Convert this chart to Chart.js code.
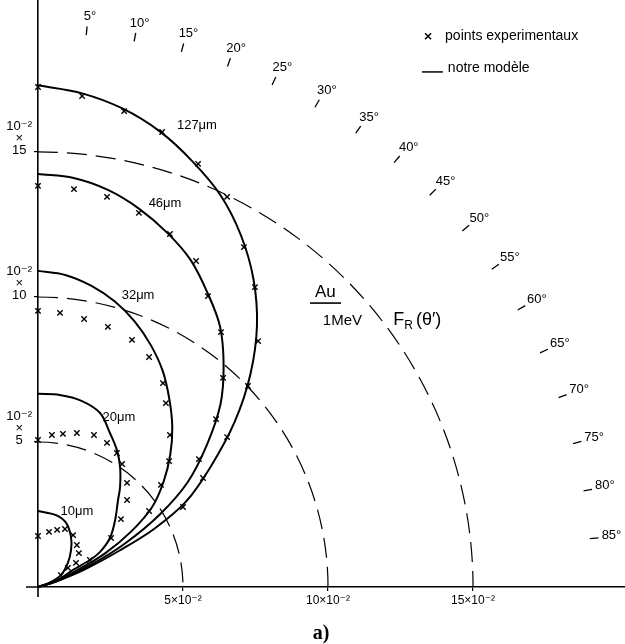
<!DOCTYPE html>
<html><head><meta charset="utf-8">
<script src="https://cdn.jsdelivr.net/npm/chart.js@4.4.1/dist/chart.umd.min.js"></script>
<style>html,body{margin:0;padding:0;background:#fff;}canvas{display:block;}</style>
</head><body>
<canvas id="c" width="625" height="644"></canvas>
<script>
// All values in units of 10^-2
const xTickValues = [5, 10, 15];
const yTickValues = [5, 10, 15];
const frRadii = [5, 10, 15];           // F_R(theta') dashed circles
const angleTicks = [5,10,15,20,25,30,35,40,45,50,55,60,65,70,75,80,85];

// model curves ("notre modèle")
const model127X = [0, 1.49, 2.91, 4.21, 5.34, 6.30, 7.00, 7.43, 7.55, 7.32, 6.78, 5.98, 5.11, 4.0, 2.8, 1.6, 0.6, 0];
const model127Y = [17.3, 17.03, 16.50, 15.70, 14.66, 13.50, 12.12, 10.61, 9.0, 7.32, 5.69, 4.19, 2.95, 2.0, 1.25, 0.6, 0.18, 0];
const model46X = [0, 1.23, 2.41, 3.49, 4.45, 5.26, 5.85, 6.28, 6.40, 6.29, 5.82, 5.16, 4.2, 3.0, 1.8, 0.7, 0];
const model46Y = [14.24, 14.10, 13.69, 13.04, 12.22, 11.28, 10.13, 8.97, 7.62, 6.29, 4.89, 3.61, 2.5, 1.5, 0.75, 0.22, 0];
const model32X = [0, 0.94, 1.83, 2.64, 3.33, 3.89, 4.30, 4.53, 4.63, 4.56, 4.33, 3.93, 3.2, 2.3, 1.3, 0.5, 0];
const model32Y = [10.9, 10.76, 10.39, 9.85, 9.16, 8.34, 7.45, 6.47, 5.52, 4.56, 3.63, 2.75, 1.9, 1.15, 0.55, 0.15, 0];
const model20X = [0, 0.75, 1.5, 2.14, 2.48, 2.72, 2.83, 2.83, 2.76, 2.66, 2.48, 2.14, 1.79, 1.21, 0.66, 0];
const model20Y = [6.66, 6.62, 6.42, 6.0, 5.31, 4.72, 4.14, 3.45, 3.0, 2.31, 1.69, 1.21, 0.93, 0.59, 0.24, 0];
const model10X = [0, 0.62, 0.97, 1.14, 1.14, 1.03, 0.79, 0.38, 0];
const model10Y = [2.62, 2.48, 2.21, 1.72, 1.28, 0.83, 0.41, 0.14, 0];

// experimental points ("points expérimentaux")
const exp127X = [0, 1.52, 2.97, 4.28, 5.52, 6.52, 7.10, 7.48, 7.59, 7.24, 6.52, 5.69, 5.0];
const exp127Y = [17.24, 16.93, 16.41, 15.69, 14.59, 13.45, 11.72, 10.34, 8.48, 6.93, 5.17, 3.76, 2.76];
const exp46X = [0, 1.24, 2.38, 3.48, 4.55, 5.45, 5.86, 6.31, 6.38, 6.14, 5.55];
const exp46Y = [13.83, 13.72, 13.45, 12.90, 12.17, 11.24, 10.03, 8.79, 7.21, 5.79, 4.41];
const exp32X = [0, 0.76, 1.59, 2.41, 3.24, 3.83, 4.31, 4.41, 4.55, 4.52, 4.24, 3.83];
const exp32Y = [9.52, 9.45, 9.24, 8.97, 8.52, 7.93, 7.03, 6.34, 5.24, 4.34, 3.52, 2.62];
const exp20X = [0, 0.48, 0.86, 1.34, 1.93, 2.38, 2.72, 2.90, 3.07, 3.07, 2.86, 2.52, 1.79];
const exp20Y = [5.07, 5.24, 5.28, 5.31, 5.24, 4.97, 4.62, 4.24, 3.59, 3.0, 2.34, 1.69, 0.93];
const exp10X = [0, 0.38, 0.66, 0.93, 1.21, 1.34, 1.41, 1.31, 1.03, 0.79];
const exp10Y = [1.76, 1.90, 1.97, 2.0, 1.79, 1.45, 1.17, 0.83, 0.66, 0.41];

// curve labels: text, x, y (data units)
const curveLabels = ['10\u03bcm', '20\u03bcm', '32\u03bcm', '46\u03bcm', '127\u03bcm'];
const curveLabelX = [1.34, 2.79, 3.45, 4.38, 5.48];
const curveLabelY = [2.59, 5.86, 10.07, 13.24, 15.93];

const FONT = 'Liberation Sans, DejaVu Sans, sans-serif';
const zip = (xs, ys) => xs.map((v, i) => ({x: v, y: ys[i]}));
const lineDs = (xs, ys) => ({data: zip(xs, ys), showLine: true, pointRadius: 0, borderColor: '#000', borderWidth: 2, tension: 0.35, fill: false, clip: false});
const ptDs = (xs, ys) => ({data: zip(xs, ys), showLine: false, pointStyle: 'crossRot', pointRadius: 3.8, borderColor: '#000', borderWidth: 1.4, backgroundColor: '#000', clip: false});
const noPad = s => { s.paddingLeft = 0; s.paddingRight = 0; s.paddingTop = 0; s.paddingBottom = 0; };

const overlay = {
  id: 'overlay',
  beforeDraw(chart) {
    const ctx = chart.ctx;
    ctx.save(); ctx.fillStyle = '#fff'; ctx.fillRect(0, 0, chart.width, chart.height); ctx.restore();
  },
  beforeDatasetsDraw(chart) {
    const {ctx, scales: {x, y}} = chart;
    const cx = x.getPixelForValue(0), cy = y.getPixelForValue(0);
    ctx.save();
    ctx.strokeStyle = '#000';
    // small axis overshoot past the origin
    ctx.lineWidth = 1.6;
    ctx.beginPath(); ctx.moveTo(cx - 12, cy); ctx.lineTo(cx, cy); ctx.moveTo(cx, cy); ctx.lineTo(cx, cy + 10); ctx.stroke();
    ctx.lineWidth = 1.2; ctx.setLineDash([20, 9]);
    frRadii.forEach(r => {
      const rx = x.getPixelForValue(r) - cx, ry = cy - y.getPixelForValue(r);
      ctx.beginPath(); ctx.ellipse(cx, cy, rx, ry, 0, -Math.PI / 2, 0); ctx.stroke();
    });
    ctx.restore();
  },
  afterDraw(chart) {
    const {ctx, scales: {x, y}} = chart;
    const P = (a, b) => [x.getPixelForValue(a), y.getPixelForValue(b)];
    const d = Math.PI / 180;
    ctx.save();
    ctx.fillStyle = '#000'; ctx.strokeStyle = '#000';
    // angle ticks + labels
    ctx.lineWidth = 1.3;
    ctx.font = '13px ' + FONT; ctx.textAlign = 'center'; ctx.textBaseline = 'middle';
    angleTicks.forEach(a => {
      const s = Math.sin(a * d), c = Math.cos(a * d);
      const p1 = P(19.1 * s, 19.1 * c), p2 = P(19.4 * s, 19.4 * c);
      ctx.beginPath(); ctx.moveTo(p1[0], p1[1]); ctx.lineTo(p2[0], p2[1]); ctx.stroke();
      ctx.fillText(a + '\u00b0', p2[0] + 2 + s * 11, p2[1] - 2 - c * 8);
    });
    // curve labels
    ctx.font = '13px ' + FONT;
    curveLabels.forEach((t, i) => { const p = P(curveLabelX[i], curveLabelY[i]); ctx.fillText(t, p[0], p[1]); });
    // Au / 1MeV / F_R(theta')
    ctx.textAlign = 'left'; ctx.textBaseline = 'alphabetic';
    let p = P(9.55, 10.0);
    ctx.font = '17px ' + FONT; ctx.fillText('Au', p[0], p[1]);
    const q = P(9.38, 9.79), q2 = P(10.45, 9.79);
    ctx.lineWidth = 1.6; ctx.beginPath(); ctx.moveTo(q[0], q[1]); ctx.lineTo(q2[0], q2[1]); ctx.stroke();
    p = P(9.82, 9.05); ctx.font = '15px ' + FONT; ctx.fillText('1MeV', p[0], p[1]);
    p = P(12.25, 9.05); ctx.font = '18px ' + FONT; ctx.fillText('F', p[0], p[1]);
    let w = ctx.measureText('F').width;
    ctx.font = '12px ' + FONT; ctx.fillText('R', p[0] + w, p[1] + 4);
    w += ctx.measureText('R').width;
    ctx.font = '18px ' + FONT; ctx.fillText('(\u03b8\u2032)', p[0] + w + 3, p[1]);
    // legend
    p = P(13.45, 18.99);
    ctx.lineWidth = 1.5;
    ctx.beginPath(); ctx.moveTo(p[0] - 3, p[1] - 3); ctx.lineTo(p[0] + 3, p[1] + 3); ctx.moveTo(p[0] + 3, p[1] - 3); ctx.lineTo(p[0] - 3, p[1] + 3); ctx.stroke();
    ctx.font = '14px ' + FONT; ctx.textBaseline = 'middle';
    ctx.fillText('points experimentaux', p[0] + 17, p[1]);
    p = P(13.24, 17.76); const p2 = P(13.96, 17.76);
    ctx.beginPath(); ctx.moveTo(p[0], p[1]); ctx.lineTo(p2[0], p2[1]); ctx.stroke();
    ctx.fillText('notre mod\u00e8le', p2[0] + 5, p[1] - 4);
    // caption
    ctx.font = 'bold 20px Liberation Serif, DejaVu Serif, serif'; ctx.textAlign = 'center'; ctx.textBaseline = 'alphabetic';
    ctx.fillText('a)', 321, 639);
    ctx.restore();
  }
};

new Chart(document.getElementById('c'), {
  type: 'scatter',
  data: {
    datasets: [
      lineDs(model127X, model127Y), lineDs(model46X, model46Y), lineDs(model32X, model32Y),
      lineDs(model20X, model20Y), lineDs(model10X, model10Y),
      ptDs(exp127X, exp127Y), ptDs(exp46X, exp46Y), ptDs(exp32X, exp32Y),
      ptDs(exp20X, exp20Y), ptDs(exp10X, exp10Y)
    ]
  },
  options: {
    responsive: false, animation: false, devicePixelRatio: 1,
    layout: {padding: 0, autoPadding: false},
    plugins: {legend: {display: false}, tooltip: {enabled: false}},
    scales: {
      x: {
        type: 'linear', min: 0, max: 20.24,
        afterFit(s) { s.height = 57; noPad(s); },
        border: {display: true, color: '#000', width: 1.6},
        grid: {display: true, drawOnChartArea: false, tickLength: 4, color: '#000', lineWidth: 1.2},
        ticks: {stepSize: 5, autoSkip: false, maxRotation: 0, padding: 2, color: '#000',
          font: {family: FONT, size: 12},
          callback: v => xTickValues.includes(v) ? v + '\u00d710\u207b\u00b2' : null}
      },
      y: {
        type: 'linear', min: 0, max: 20.24,
        afterFit(s) { s.width = 38; noPad(s); },
        border: {display: true, color: '#000', width: 1.6},
        grid: {display: true, drawOnChartArea: false, tickLength: 4, color: '#000', lineWidth: 1.2},
        ticks: {stepSize: 5, autoSkip: false, padding: 2, color: '#000', crossAlign: 'center', labelOffset: -14,
          font: {family: FONT, size: 13, lineHeight: 0.92},
          callback: v => yTickValues.includes(v) ? ['10\u207b\u00b2', '\u00d7', String(v)] : null}
      }
    }
  },
  plugins: [overlay]
});
</script>
</body></html>
